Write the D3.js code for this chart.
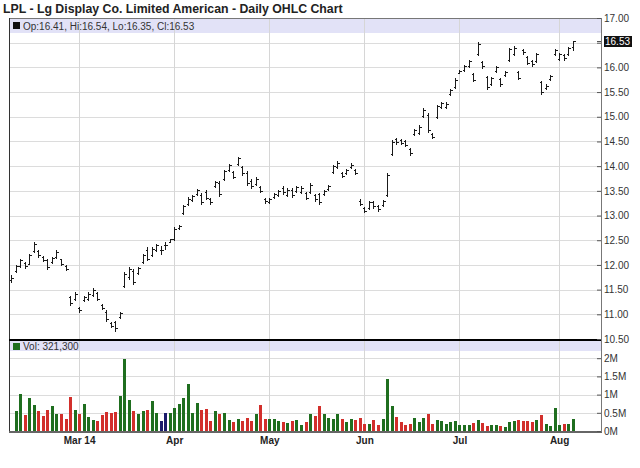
<!DOCTYPE html>
<html><head><meta charset="utf-8">
<script src="https://cdn.jsdelivr.net/npm/d3@7"></script>
<style>body{margin:0;background:#fff;}svg{display:block;font-family:Arial,"Liberation Sans",sans-serif;}</style>
</head><body><svg id="c" width="640" height="468"></svg>
<script>
const title = "LPL - Lg Display Co. Limited American - Daily OHLC Chart";
const dates = [
"02-07","02-10","02-11","02-12","02-13","02-14","02-18","02-19","02-20","02-21","02-24","02-25","02-26","02-27","02-28",
"03-03","03-04","03-05","03-06","03-07","03-10","03-11","03-12","03-13","03-14","03-17","03-18","03-19","03-20","03-21","03-24","03-25","03-26","03-27","03-28","03-31",
"04-01","04-02","04-03","04-04","04-07","04-08","04-09","04-10","04-11","04-14","04-15","04-16","04-17","04-21","04-22","04-23","04-24","04-25","04-28","04-29","04-30",
"05-01","05-02","05-05","05-06","05-07","05-08","05-09","05-12","05-13","05-14","05-15","05-16","05-19","05-20","05-21","05-22","05-23","05-27","05-28","05-29","05-30",
"06-02","06-03","06-04","06-05","06-06","06-09","06-10","06-11","06-12","06-13","06-16","06-17","06-18","06-19","06-20","06-23","06-24","06-25","06-26","06-27","06-30",
"07-01","07-02","07-03","07-07","07-08","07-09","07-10","07-11","07-14","07-15","07-16","07-17","07-18","07-21","07-22","07-23","07-24","07-25","07-28","07-29","07-30","07-31",
"08-01","08-04","08-05","08-06"];
const open = [
11.70,11.88,11.98,12.04,12.02,12.28,12.28,12.17,12.10,12.05,12.16,12.11,11.98,11.35,11.30,
11.12,11.28,11.32,11.40,11.43,11.19,11.05,10.82,10.84,10.94,11.58,11.75,11.88,11.84,12.05,12.30,12.21,12.31,12.30,12.40,12.47,
12.52,12.74,13.05,13.24,13.32,13.44,13.42,13.48,13.33,13.60,13.65,13.73,13.92,13.88,14.05,13.99,13.87,13.70,13.64,13.57,13.33,
13.27,13.37,13.41,13.56,13.41,13.52,13.50,13.47,13.46,13.48,13.42,13.43,13.43,13.54,13.88,13.98,13.87,13.86,13.98,13.92,13.30,
13.16,13.16,13.27,13.19,13.21,13.41,14.25,14.55,14.53,14.50,14.35,14.65,14.68,15.02,15.03,14.66,15.00,15.19,15.19,15.47,15.61,
15.89,15.95,16.03,15.86,16.28,16.11,15.80,15.66,15.92,15.77,15.85,16.15,16.28,15.91,16.36,16.22,16.13,16.13,15.70,15.58,15.76,16.27,
16.17,16.26,16.27,16.41];
const high = [
11.79,12.00,12.13,12.06,12.23,12.47,12.30,12.19,12.13,12.16,12.30,12.13,12.00,11.38,11.45,
11.14,11.38,11.45,11.53,11.45,11.21,11.08,10.84,10.87,11.04,11.86,11.96,11.92,11.96,12.22,12.36,12.36,12.43,12.38,12.47,12.53,
12.76,12.81,13.22,13.37,13.42,13.54,13.45,13.51,13.35,13.69,13.69,13.92,14.05,13.90,14.19,14.01,13.90,13.73,13.78,13.59,13.35,
13.35,13.45,13.52,13.59,13.55,13.55,13.59,13.59,13.48,13.65,13.44,13.46,13.52,13.62,14.03,14.10,13.89,13.94,14.06,13.94,13.33,
13.18,13.30,13.30,13.21,13.31,13.86,14.52,14.57,14.55,14.52,14.37,14.76,14.83,15.17,15.07,14.68,15.24,15.29,15.29,15.57,15.78,
15.95,16.05,16.15,15.88,16.51,16.13,15.83,15.81,16.03,15.79,15.93,16.40,16.44,15.93,16.38,16.24,16.15,16.30,15.72,15.66,15.84,16.38,
16.30,16.28,16.42,16.54];
const low = [
11.65,11.86,11.96,11.94,12.03,12.26,12.16,12.07,11.92,12.03,12.14,11.99,11.89,11.18,11.28,
11.05,11.26,11.28,11.38,11.28,11.10,10.87,10.74,10.67,10.92,11.55,11.72,11.62,11.82,12.03,12.09,12.19,12.29,12.23,12.33,12.46,
12.50,12.72,13.03,13.22,13.30,13.42,13.24,13.33,13.24,13.58,13.40,13.71,13.90,13.76,14.03,13.83,13.62,13.56,13.62,13.47,13.26,
13.25,13.35,13.39,13.44,13.39,13.38,13.48,13.45,13.33,13.46,13.30,13.24,13.41,13.52,13.86,13.96,13.78,13.84,13.96,13.84,13.21,
13.07,13.14,13.16,13.10,13.19,13.39,14.22,14.45,14.44,14.40,14.23,14.63,14.66,15.00,14.70,14.56,14.97,15.17,15.17,15.45,15.59,
15.88,15.93,16.01,15.72,16.26,15.99,15.57,15.64,15.90,15.63,15.83,16.13,16.26,15.76,16.28,16.06,16.03,16.11,15.47,15.56,15.74,16.25,
16.15,16.15,16.25,16.35];
const close = [
11.74,11.97,12.10,11.98,12.20,12.42,12.20,12.10,11.96,12.14,12.27,12.02,11.92,11.22,11.42,
11.08,11.35,11.42,11.50,11.32,11.12,10.90,10.76,10.72,11.02,11.82,11.92,11.66,11.93,12.20,12.12,12.33,12.40,12.30,12.40,12.52,
12.73,12.79,13.20,13.34,13.40,13.51,13.28,13.36,13.27,13.67,13.44,13.90,14.02,13.79,14.16,13.86,13.65,13.60,13.75,13.50,13.29,
13.33,13.43,13.49,13.47,13.52,13.41,13.57,13.56,13.36,13.62,13.33,13.27,13.50,13.60,14.00,14.07,13.80,13.92,14.03,13.86,13.24,
13.10,13.27,13.19,13.13,13.29,13.83,14.48,14.48,14.47,14.43,14.26,14.73,14.80,15.14,14.74,14.59,15.21,15.27,15.26,15.55,15.75,
15.93,16.03,16.12,15.75,16.48,16.02,15.61,15.78,16.00,15.66,15.91,16.37,16.40,15.79,16.31,16.09,16.06,16.27,15.51,15.63,15.82,16.35,
16.27,16.18,16.39,16.53];
// volume (shares); the first session's volume bar is not visible
const volume = [null,
540000,1010000,430000,910000,710000,540000,410000,590000,680000,460000,460000,340000,940000,570000,
460000,730000,390000,290000,270000,430000,510000,500000,510000,960000,1990000,840000,540000,460000,540000,570000,820000,500000,270000,500000,500000,
630000,730000,910000,1280000,500000,770000,570000,610000,270000,540000,460000,500000,290000,250000,330000,270000,370000,280000,460000,710000,340000,
340000,320000,270000,240000,220000,280000,310000,160000,240000,460000,420000,680000,460000,360000,340000,460000,340000,240000,340000,290000,360000,
200000,180000,310000,160000,330000,1440000,690000,390000,240000,160000,200000,370000,240000,370000,460000,200000,310000,270000,200000,240000,270000,
160000,160000,160000,220000,290000,220000,130000,160000,160000,130000,100000,240000,270000,310000,270000,270000,240000,310000,430000,180000,140000,640000,
160000,180000,200000,321300];
// volume bar colour codes per session: g = up, r = down, b = unchanged (x = no bar)
const volDir = ("x" +
  "ggrggrrrgg" + "rrrgrgggrr" + "rrrgggrggr" + "ggbbgggggg" + "grrrgrggrg" +
  "rrrgrrgggr" + "grggrgrrgg" + "ggrggrrrgr" + "rgggrrrrgg" + "grrggggggg" +
  "grgrrggrgg" + "grrrrgrggg" + "grgg").split("");
const priceTicks = [10.5,11,11.5,12,12.5,13,13.5,14,14.5,15,15.5,16,16.5,17];
const volTicks = [0,500000,1000000,1500000,2000000];
const volTickLabels = ["0M","0.5M","1M","1.5M","2M"];
const monthTicks = ["03-03","04-01","05-01","06-02","07-01","08-01"];
const monthLabels = ["Mar 14","Apr","May","Jun","Jul","Aug"];

const colors = {g:"#1f6e1f", r:"#d22f2b", b:"#1b1b6b"};

const svg = d3.select("#c");
const L=9, R=601, pTop=18, pBot=339, vTop=340, vBot=431;
const x = d3.scalePoint().domain(dates).range([11.2, 572.7]);
const yP = d3.scaleLinear().domain([10.5,17]).range([pBot,pTop]);
const yV = d3.scaleLinear().domain([0,2500000]).range([vBot,vTop]);
const px = d => Math.round(x(d));

// title
svg.append("text").attr("x",3).attr("y",13).attr("font-size","12.3px").attr("font-weight","bold")
  .attr("fill","#222").text(title);

const grid = svg.append("g").attr("shape-rendering","crispEdges");
// header bands
grid.append("rect").attr("x",L+1).attr("y",pTop+1).attr("width",R-L-1).attr("height",14).attr("fill","#e2e2f7");
grid.append("rect").attr("x",L+1).attr("y",vTop+1).attr("width",R-L-1).attr("height",10).attr("fill","#e2e2f7");
// horizontal grid
grid.selectAll(".hp").data(priceTicks.filter(t=>t>10.5&&t<17)).join("line")
  .attr("x1",L).attr("x2",R).attr("y1",d=>Math.round(yP(d))+.5).attr("y2",d=>Math.round(yP(d))+.5)
  .attr("stroke","#dcdcdc");
grid.selectAll(".hv").data(volTicks.filter(t=>t>0)).join("line")
  .attr("x1",L).attr("x2",R).attr("y1",d=>Math.round(yV(d))+.5).attr("y2",d=>Math.round(yV(d))+.5)
  .attr("stroke","#dcdcdc");
// vertical grid
grid.selectAll(".vg").data(monthTicks).join("line")
  .attr("x1",d=>px(d)+.5).attr("x2",d=>px(d)+.5).attr("y1",pTop).attr("y2",vBot)
  .attr("stroke","#d6d6d6");

// header texts
svg.append("rect").attr("x",13).attr("y",22).attr("width",7).attr("height",7).attr("fill","#111");
svg.append("text").attr("x",23).attr("y",29.5).attr("font-size","10px").attr("fill","#333")
  .text(`Op:${open[open.length-1].toFixed(2)}, Hi:${high[high.length-1].toFixed(2)}, Lo:${low[low.length-1].toFixed(2)}, Cl:${close[close.length-1].toFixed(2)}`);
svg.append("rect").attr("x",13).attr("y",343).attr("width",7).attr("height",7).attr("fill","#1f6e1f");
svg.append("text").attr("x",23).attr("y",349.5).attr("font-size","10px").attr("fill","#333")
  .text("Vol: " + d3.format(",")(volume[volume.length-1]));

// OHLC bars
const bars = svg.append("g").attr("stroke","#1a1a1a").attr("shape-rendering","crispEdges");
dates.forEach((d,i)=>{
  const xi = px(d)+.5;
  bars.append("line").attr("x1",xi).attr("x2",xi).attr("y1",Math.round(yP(high[i]))).attr("y2",Math.round(yP(low[i]))+1);
  bars.append("line").attr("x1",xi-2).attr("x2",xi).attr("y1",Math.round(yP(open[i]))+.5).attr("y2",Math.round(yP(open[i]))+.5);
  bars.append("line").attr("x1",xi).attr("x2",xi+2.5).attr("y1",Math.round(yP(close[i]))+.5).attr("y2",Math.round(yP(close[i]))+.5);
});

// volume bars
svg.append("g").attr("shape-rendering","crispEdges").selectAll("rect")
  .data(dates.map((d,i)=>({d,v:volume[i],c:volDir[i]})).filter(o=>o.v!=null))
  .join("rect")
  .attr("x",o=>px(o.d)-1).attr("width",3)
  .attr("y",o=>Math.round(yV(o.v))).attr("height",o=>vBot-Math.round(yV(o.v)))
  .attr("fill",o=>colors[o.c]||colors.g);

// frame
const fr = svg.append("g").attr("shape-rendering","crispEdges");
fr.append("line").attr("x1",L).attr("x2",R).attr("y1",pTop+.5).attr("y2",pTop+.5).attr("stroke","#777");
fr.append("line").attr("x1",L+.5).attr("x2",L+.5).attr("y1",pTop).attr("y2",vBot).attr("stroke","#333");
fr.append("line").attr("x1",L).attr("x2",R).attr("y1",pBot+.5).attr("y2",pBot+.5).attr("stroke","#000").attr("stroke-width",2);
fr.append("line").attr("x1",L).attr("x2",R+1).attr("y1",vBot+.5).attr("y2",vBot+.5).attr("stroke","#666").attr("stroke-width",2);

// right axes
const axP = svg.append("g").attr("transform",`translate(${R},0)`)
  .call(d3.axisRight(yP).tickValues(priceTicks).tickFormat(d3.format(".2f")).tickSizeInner(-4).tickSizeOuter(0).tickPadding(3));
const axV = svg.append("g").attr("transform",`translate(${R},0)`)
  .call(d3.axisRight(yV).tickValues(volTicks).tickFormat((d,i)=>volTickLabels[i]).tickSizeInner(-4).tickSizeOuter(0).tickPadding(3));
[axP,axV].forEach(a=>{
  a.select(".domain").remove();
  a.selectAll("line").attr("stroke","#555");
  a.selectAll("text").attr("font-size","10px").attr("fill","#333").attr("font-family","Arial, 'Liberation Sans', sans-serif");
});
svg.append("line").attr("x1",R+.5).attr("x2",R+.5).attr("y1",pTop).attr("y2",vBot+1).attr("stroke","#777").attr("shape-rendering","crispEdges");

// last price marker
const lastY = yP(close[close.length-1]);
svg.append("line").attr("x1",R-4).attr("x2",R).attr("y1",Math.round(lastY)+.5).attr("y2",Math.round(lastY)+.5).attr("stroke","#555");
svg.append("rect").attr("x",R+3).attr("y",Math.round(lastY)-5).attr("width",28).attr("height",11).attr("fill","#111");
svg.append("text").attr("x",R+4).attr("y",Math.round(lastY)+4).attr("font-size","10px").attr("fill","#fff")
  .text(close[close.length-1].toFixed(2));

// bottom axis
const axX = svg.append("g").attr("transform",`translate(0,${vBot})`)
  .call(d3.axisBottom(x).tickValues(monthTicks).tickFormat((d,i)=>monthLabels[i]).tickSize(0).tickPadding(6));
axX.select(".domain").remove();
axX.selectAll("text").attr("font-size","10px").attr("font-weight","bold").attr("fill","#222")
  .attr("font-family","Arial, 'Liberation Sans', sans-serif");
</script></body></html>
